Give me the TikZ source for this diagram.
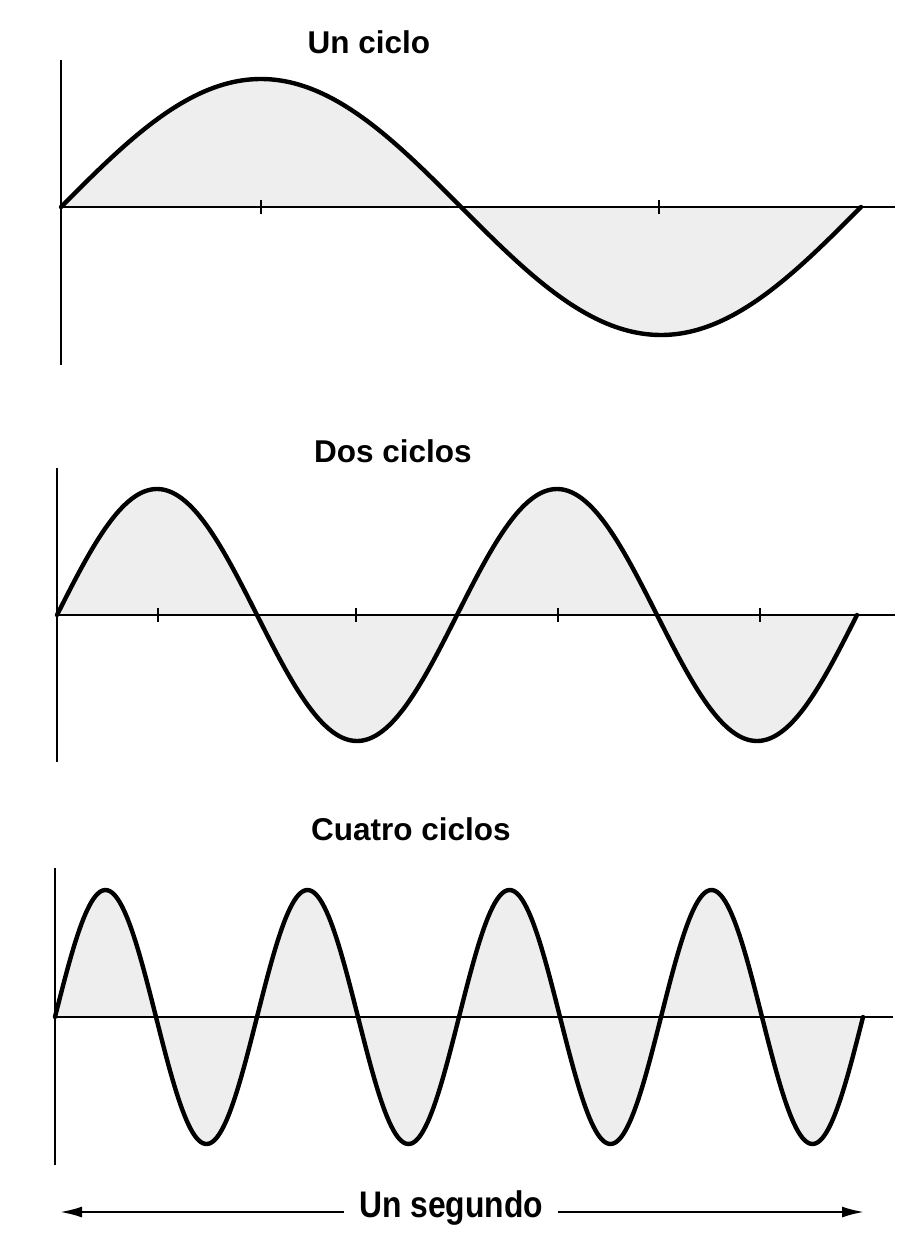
\documentclass[tikz,border=0pt]{standalone}
\usepackage{fontspec}
\setmainfont{Liberation Sans}
\newfontfamily\narrowfont[FakeStretch=0.86]{Liberation Sans}
\usetikzlibrary{arrows.meta}
\begin{document}
\begin{tikzpicture}[x=1pt,y=-1pt,
  axisline/.style={line width=2.2pt,black},
  wave/.style={line width=4.4pt,black,line join=round,line cap=round},
  wavefill/.style={fill=gray!13},
  tickmark/.style={line width=1.8pt},
  title/.style={font=\bfseries\fontsize{31.5}{36}\selectfont,inner sep=0pt},
  segtitle/.style={font=\narrowfont\bfseries\fontsize{37}{42}\selectfont,inner sep=0pt},
  seconds/.style={-{Latex[length=22pt,width=11pt]},line width=2.2pt}]
\useasboundingbox (0,0) rectangle (907,1257);
% ---------- Panel 1 ----------
\node[title] (t1) at (369,42) {Un ciclo};
\fill[wavefill] plot[domain=61:861,samples=200] (\x,{207-128*sin((\x-61)/800*360)}) -- cycle;
\draw[axisline] (61,60) -- (61,365);
\draw[axisline] (61,207) -- (895,207);
\foreach \t in {261,659} \draw[tickmark] (\t,200) -- (\t,214);
\draw[wave] plot[domain=61:861,samples=200] (\x,{207-128*sin((\x-61)/800*360)});
% ---------- Panel 2 ----------
\node[title] (t2) at (393,451) {Dos ciclos};
\fill[wavefill] plot[domain=57:857,samples=300] (\x,{615-126*sin((\x-57)/400*360)}) -- cycle;
\draw[axisline] (57,468) -- (57,762);
\draw[axisline] (57,615) -- (895,615);
\foreach \t in {158,356,558,760} \draw[tickmark] (\t,608) -- (\t,622);
\draw[wave] plot[domain=57:857,samples=300] (\x,{615-126*sin((\x-57)/400*360)});
% ---------- Panel 3 ----------
\node[title] (t3) at (411,829) {Cuatro ciclos};
\fill[wavefill] plot[domain=55:863,samples=400] (\x,{1017-127*sin((\x-55)/202*360)}) -- cycle;
\draw[axisline] (55,868) -- (55,1165);
\draw[axisline] (55,1017) -- (893,1017);
\draw[wave] plot[domain=55:863,samples=400] (\x,{1017-127*sin((\x-55)/202*360)});
% ---------- One second ----------
\node[segtitle,inner xsep=15pt] (seg) at (451,1208) {Un segundo};
\coordinate (lefttip) at (60,1212);
\coordinate (righttip) at (864,1212);
\draw[seconds] (seg.west |- lefttip) -- (lefttip);
\draw[seconds] (seg.east |- righttip) -- (righttip);
\end{tikzpicture}
\end{document}
